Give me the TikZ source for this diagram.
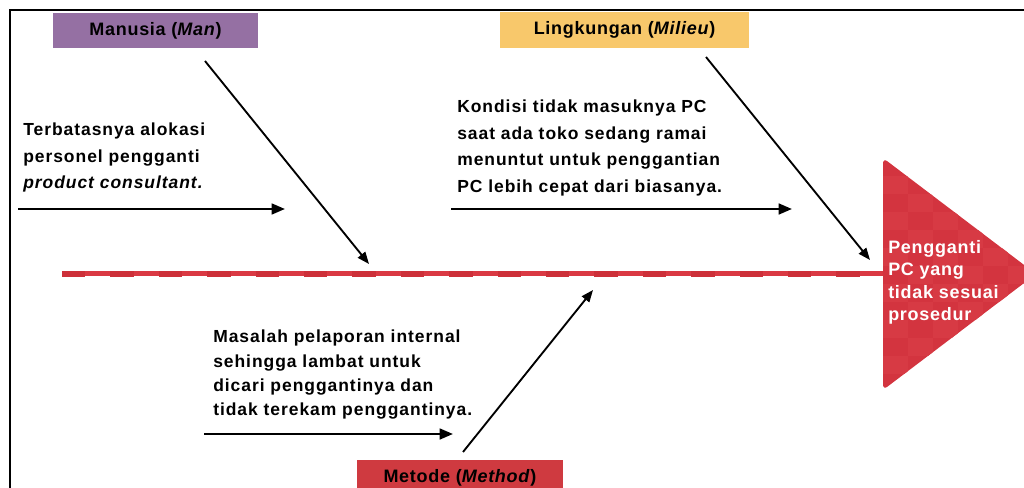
\documentclass[tikz,border=0pt]{standalone}
\usepackage{fontspec}
\setmainfont{Liberation Sans}[LetterSpace=5.5]
\usetikzlibrary{arrows.meta}
\definecolor{manc}{HTML}{9570A3}
\definecolor{milc}{HTML}{F8C86B}
\definecolor{metc}{HTML}{CF3A40}
\definecolor{spinel}{HTML}{DA3943}
\definecolor{spined}{HTML}{CD3039}
\definecolor{headA}{HTML}{D3343F}
\definecolor{headB}{HTML}{D73A44}
\begin{document}
\begin{tikzpicture}[x=0.75pt,y=-0.75pt,
  catbox/.style={inner sep=0, font=\fontsize{13.5pt}{15pt}\selectfont\bfseries\addfontfeatures{LetterSpace=4}},
  cause/.style={anchor=north west, align=left, inner sep=0, font=\fontsize{13.1pt}{19.9pt}\selectfont\bfseries},
  harrow/.style={-{Triangle[length=10pt,width=8pt]}, line width=1.9pt},
  darrow/.style={-{Triangle[length=9pt,width=7pt]}, line width=1.4pt}]
\clip (0,0) rectangle (1024,488);
% frame
\draw[line width=1.3pt] (10,500) -- (10,10) -- (1030,10);
% spine
\draw[spinel, line width=3.75pt] (62,274) coordinate (s0) -- (884,274) coordinate (s1);
\draw[spined, line width=3.9pt, dash pattern=on 17.6pt off 18.7pt] (s0) -- (s1);
% head
\begin{scope}
\clip[rounded corners=4pt] (883,158) -- (1036,274) -- (883,390) -- cycle;
\fill[headA] (878,150) rectangle (1040,400);
\foreach \i in {0,...,6}{\foreach \j in {0,...,12}{%
  \pgfmathtruncatemacro\p{mod(\i+\j,2)}%
  \ifnum\p=1 \fill[headB] ({883+25*\i},{158+18*\j}) rectangle ++(25,18);\fi}}
\end{scope}
\node[anchor=north west, align=left, inner sep=0, text=white,
  font=\fontsize{13.5pt}{16.9pt}\selectfont\bfseries\addfontfeatures{LetterSpace=4}] (head) at (888,240)
  {Pengganti\\PC yang\\tidak sesuai\\prosedur};
% category boxes
\node[catbox, fill=manc, minimum width=153.75pt, minimum height=26.25pt] (man) at (155.5,30.5) {Manusia (\textit{Man})};
\node[catbox, fill=milc, minimum width=186.75pt, minimum height=27pt] (mil) at (624.5,30) {Lingkungan (\textit{Milieu})};
\node[catbox, fill=metc, minimum width=154.5pt, minimum height=27pt] (met) at (460,478) {Metode (\textit{Method})};
% bones
\coordinate (m1) at (205,61); \coordinate (m2) at (369,264);
\coordinate (l1) at (706,57); \coordinate (l2) at (870,260);
\coordinate (t1) at (463,452); \coordinate (t2) at (593,290);
\draw[darrow] (m1) -- (m2);
\draw[darrow] (l1) -- (l2);
\draw[darrow] (t1) -- (t2);
% causes
\node[cause] (c1) at (23,123) {Terbatasnya alokasi\\personel pengganti\\\textit{product consultant.}};
\node[cause] (c2) at (457,100) {Kondisi tidak masuknya PC\\saat ada toko sedang ramai\\menuntut untuk penggantian\\PC lebih cepat dari biasanya.};
\node[cause, font=\fontsize{13.1pt}{18.2pt}\selectfont\bfseries] (c3) at (213,330) {Masalah pelaporan internal\\sehingga lambat untuk\\dicari penggantinya dan\\tidak terekam penggantinya.};
\coordinate (h1a) at (18,209); \coordinate (h1b) at (285,209);
\coordinate (h2a) at (451,209); \coordinate (h2b) at (792,209);
\coordinate (h3a) at (204,434); \coordinate (h3b) at (453,434);
\draw[harrow] (h1a) -- (h1b);
\draw[harrow] (h2a) -- (h2b);
\draw[harrow] (h3a) -- (h3b);
\end{tikzpicture}
\end{document}
